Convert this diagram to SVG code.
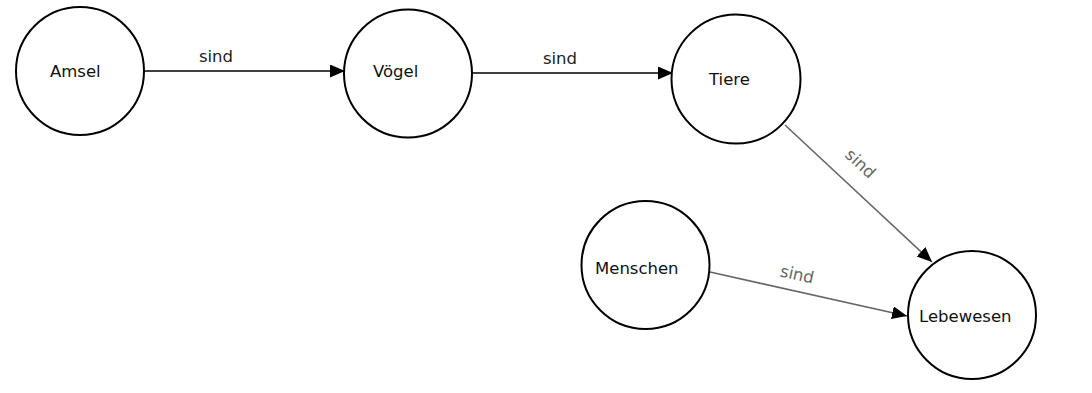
<svg xmlns="http://www.w3.org/2000/svg" width="1092" height="393" viewBox="0 0 1092 393">
<style>
.node{fill:#fff;stroke:#000;stroke-width:2}
.lbl{font-family:"DejaVu Sans",sans-serif;font-size:16.5px;fill:#111}
.elbl{font-family:"DejaVu Sans",sans-serif;font-size:16.5px;fill:#222}
.glbl{font-family:"DejaVu Sans",sans-serif;font-size:16.5px;fill:#666}
.e{stroke:#000;stroke-width:1.5;fill:none;marker-end:url(#arr)}
.g{stroke:#666;stroke-width:1.6;fill:none;marker-end:url(#arr)}
</style>
<defs>
<marker id="arr" markerUnits="userSpaceOnUse" markerWidth="16" markerHeight="14" refX="15" refY="6.5" orient="auto">
<path d="M0,0 L15,6.5 L0,13 z" fill="#000"/>
</marker>
</defs>
<rect width="1092" height="393" fill="#fff"/>
<g id="connectors">
<line class="e" x1="144" y1="71" x2="345" y2="71"/>
<text class="elbl" x="216" y="62" text-anchor="middle">sind</text>
<line class="e" x1="472" y1="73" x2="673" y2="73"/>
<text class="elbl" x="560" y="64" text-anchor="middle">sind</text>
<line class="g" x1="785" y1="125" x2="932" y2="262"/>
<text class="glbl" text-anchor="middle" transform="translate(860,164) rotate(43)" y="5">sind</text>
<line class="g" x1="710" y1="272" x2="907" y2="316"/>
<text class="glbl" text-anchor="middle" transform="translate(797,275) rotate(12.7)" y="5">sind</text>
</g>
<g id="amsel"><circle class="node" cx="80" cy="71" r="64"/><text class="lbl" x="50" y="77">Amsel</text></g>
<g id="voegel"><circle class="node" cx="408" cy="73.5" r="64"/><text class="lbl" x="373" y="77">Vögel</text></g>
<g id="tiere"><circle class="node" cx="736" cy="79" r="64.5"/><text class="lbl" x="709" y="85">Tiere</text></g>
<g id="menschen"><circle class="node" cx="645.5" cy="265" r="64"/><text class="lbl" x="595" y="274">Menschen</text></g>
<g id="lebewesen"><circle class="node" cx="972" cy="315" r="64"/><text class="lbl" x="919" y="322">Lebewesen</text></g>
</svg>
